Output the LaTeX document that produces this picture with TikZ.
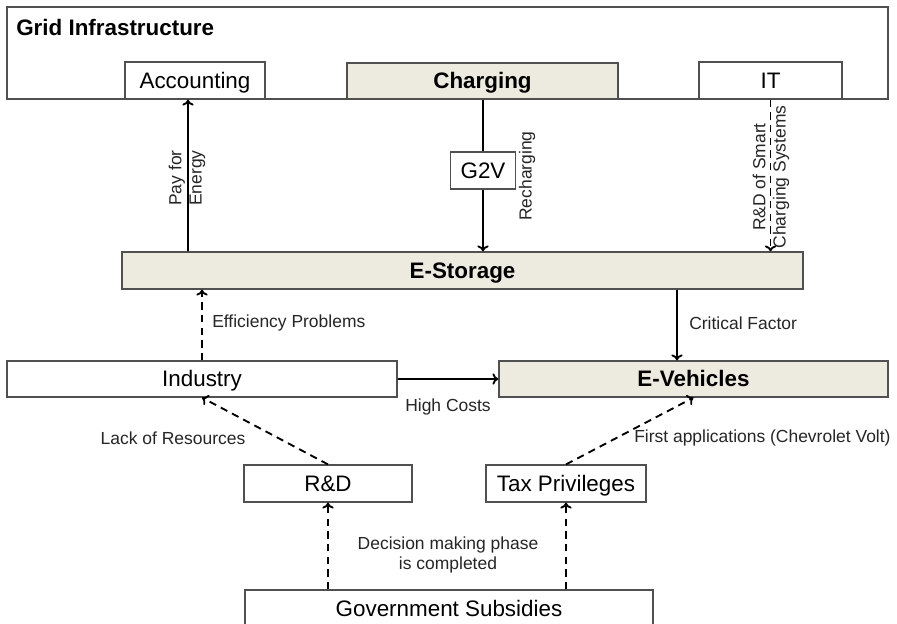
\documentclass[tikz,border=0pt]{standalone}
\usepackage{fontspec}
\setmainfont{Liberation Sans}
\usetikzlibrary{positioning,arrows.meta}
\definecolor{boxbeige}{RGB}{237,235,224}
\definecolor{boxline}{RGB}{80,80,80}
\begin{document}
\begin{tikzpicture}[x=0.75pt,y=-0.75pt,
    size/.style 2 args={minimum width=#1*0.75pt,minimum height=#2*0.75pt},
    box/.style={draw=boxline,line width=0.9pt,inner sep=0pt,text height=12pt,text depth=0pt,
      font=\fontsize{16.8}{19}\selectfont},
    keybox/.style={box,fill=boxbeige,font=\fontsize{16.8}{19}\selectfont\bfseries},
    lbl/.style={font=\fontsize{13.1}{15.2}\selectfont,text=black!85,inner sep=0pt},
    flow/.style={-{To[length=4.5pt,width=8.5pt]},line width=1.4pt},
    weak/.style={flow,dash pattern=on 5.5pt off 4pt}
  ]
  \useasboundingbox (0,0) rectangle (897,624);
  \fill[white] (0,0) rectangle (897,624);

  % grid infrastructure frame
  \node[box,size={881}{92}] (grid) at (447.5,53) {};
  \node[anchor=west,inner sep=0pt,font=\fontsize{16.8}{19}\selectfont\bfseries]
    (gridtitle) at (16,27) {Grid Infrastructure};
  \node[box,size={140}{37}] (acc) at (195,80.5) {Accounting};
  \node[keybox,size={271}{36}] (chg) at (482.5,81) {Charging};
  \node[box,size={143}{37}] (it) at (770.5,80.5) {IT};

  \node[box,size={65}{37}] (g2v) at (483,170.5) {G2V};
  \node[keybox,size={681}{37}] (store) at (462.5,270.5) {E-Storage};

  \node[box,size={390}{36}] (ind) at (202,379) {Industry};
  \node[keybox,size={389}{36}] (veh) at (693.5,379) {E-Vehicles};

  \node[box,size={168}{37}] (rd) at (328,483.5) {R\&D};
  \node[box,size={160}{37}] (tax) at (566,483.5) {Tax Privileges};
  \node[box,size={408}{37}] (gov) at (449,608.5) {Government Subsidies};

  % connectors
  \draw[flow] (store.north -| 188,0) -- (acc.south -| 188,0);
  \draw[line width=1.4pt] (chg.south -| g2v) -- (g2v.north);
  \draw[flow] (g2v.south) -- (g2v |- store.north);
  \draw[weak] (it.south) -- (it |- store.north);
  \draw[weak] (ind.north) -- (ind |- store.south);
  \draw[flow] (store.south -| 677,0) -- (veh.north -| 677,0);
  \draw[flow] (ind.east) -- (veh.west);
  \draw[weak] (rd.north) -- (ind.south);
  \draw[weak] (tax.north) -- (veh.south);
  \draw[weak] (gov.north -| rd) -- (rd.south);
  \draw[weak] (gov.north -| tax) -- (tax.south);

  % labels
  \node[lbl,rotate=90,align=center] (paylbl) at (187,178) {Pay for\\Energy};
  \node[lbl,rotate=90] (rechlbl) at (527,176) {Recharging};
  \node[lbl,rotate=90,align=center] (smartlbl) at (771,177) {R\&D of Smart\\Charging Systems};
  \node[lbl,anchor=west] (efflbl) at (212,323) {Efficiency Problems};
  \node[lbl,anchor=west] (critlbl) at (689,323) {Critical Factor};
  \node[lbl] (costlbl) at (448,407) {High Costs};
  \node[lbl] (lacklbl) at (173,438) {Lack of Resources};
  \node[lbl,anchor=west] (firstlbl) at (634,438) {First applications (Chevrolet Volt)};
  \node[lbl,align=center] (declbl) at (448,555) {Decision making phase\\is completed};
\end{tikzpicture}
\end{document}
